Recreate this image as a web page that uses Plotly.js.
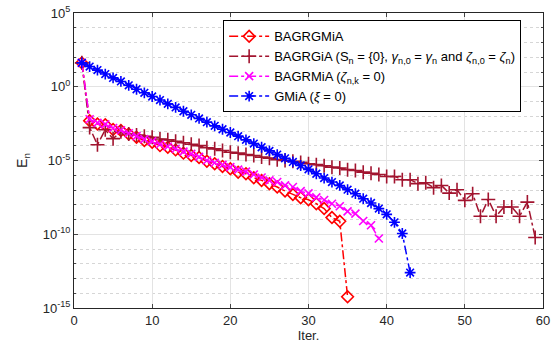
<!DOCTYPE html>
<html>
<head>
<meta charset="utf-8">
<script src="https://cdn.plot.ly/plotly-3.0.1.min.js"></script>
<style>html,body{margin:0;padding:0;background:#fff;}#chart{width:555px;height:347px;}</style>
</head>
<body>
<div id="chart"></div>
<script>
// log10(E_n) values
const iterRed = [1,2,3,4,5,6,7,8,9,10,11,12,13,14,15,16,17,18,19,20,21,22,23,24,25,26,27,28,29,30,31,32,33,34,35];
const logRed = [1.62,-2.3,-2.52,-2.57,-2.9,-2.97,-3.2,-3.42,-3.65,-3.76,-3.99,-4.1,-4.28,-4.5,-4.66,-4.8,-5.05,-5.22,-5.4,-5.56,-5.79,-5.9,-6.17,-6.35,-6.57,-6.8,-7.07,-7.3,-7.52,-7.66,-7.93,-8.26,-8.87,-9.12,-14.24];

const iterDark = [1,2,3,4,5,6,7,8,9,10,11,12,13,14,15,16,17,18,19,20,21,22,23,24,25,26,27,28,29,30,31,32,33,34,35,36,37,38,39,40,41,42,43,44,45,46,47,48,49,50,51,52,53,54,55,56,57,58,59];
const logDark = [1.62,-2.77,-3.93,-2.92,-3.52,-3.05,-3.2,-3.27,-3.36,-3.42,-3.54,-3.6,-3.69,-3.8,-3.9,-3.99,-4.14,-4.21,-4.32,-4.44,-4.5,-4.59,-4.66,-4.77,-4.84,-4.95,-5.0,-5.05,-5.13,-5.22,-5.28,-5.36,-5.45,-5.51,-5.62,-5.68,-5.79,-5.86,-5.95,-6.08,-6.08,-6.3,-6.3,-6.57,-6.51,-6.84,-6.69,-7.21,-6.98,-7.7,-7.25,-8.78,-7.64,-8.78,-8.15,-8.15,-8.78,-7.82,-10.22];

const iterMag = [1,2,3,4,5,6,7,8,9,10,11,12,13,14,15,16,17,18,19,20,21,22,23,24,25,26,27,28,29,30,31,32,33,34,35,36,37,38,39];
const logMag = [1.62,-2.2,-2.45,-2.55,-2.8,-2.95,-3.15,-3.35,-3.55,-3.7,-3.9,-4.05,-4.2,-4.4,-4.55,-4.75,-5.0,-5.15,-5.3,-5.45,-5.62,-5.75,-5.95,-6.15,-6.35,-6.46,-6.69,-6.8,-7.08,-7.23,-7.5,-7.68,-7.93,-8.1,-8.45,-8.6,-9.1,-9.39,-10.29];

const iterBlue = [1,2,3,4,5,6,7,8,9,10,11,12,13,14,15,16,17,18,19,20,21,22,23,24,25,26,27,28,29,30,31,32,33,34,35,36,37,38,39,40,41,42,43];
const logBlue = [1.62,1.37,1.13,0.86,0.6,0.36,0.1,-0.17,-0.41,-0.66,-0.9,-1.16,-1.4,-1.66,-1.9,-2.15,-2.4,-2.65,-2.88,-3.1,-3.35,-3.6,-3.85,-4.1,-4.35,-4.6,-4.85,-5.1,-5.34,-5.6,-5.9,-6.19,-6.46,-6.69,-6.98,-7.25,-7.59,-7.88,-8.26,-8.65,-9.19,-9.95,-12.6];

const names = [
  'BAGRGMiA',
  'BAGRGiA (S<sub>n</sub> = {0}, <i>γ</i><sub>n,0</sub> = <i>γ</i><sub>n</sub> and <i>ζ</i><sub>n,0</sub> = <i>ζ</i><sub>n</sub>)',
  'BAGRMiA (<i>ζ</i><sub>n,k</sub> = 0)',
  'GMiA (<i>ξ</i> = 0)'
];
const xTickVals = [0,10,20,30,40,50,60];
const yTickExp = [5,0,-5,-10,-15];
const yTickText = ['10<sup>5</sup>','10<sup>0</sup>','10<sup>-5</sup>','10<sup>-10</sup>','10<sup>-15</sup>'];

const toE = a => a.map(v => Math.pow(10, v));

function tr(x, ly, name, color, symbol, size) {
  return {
    x: x, y: toE(ly), name: name, type: 'scatter', mode: 'lines+markers',
    line: {color: color, width: 1.5, dash: 'dashdot'},
    marker: {symbol: symbol, size: size, color: color, line: {color: color, width: 1.6}}
  };
}

const data = [
  tr(iterRed, logRed, names[0], '#ff0000', 'diamond-open', 9),
  tr(iterDark, logDark, names[1], '#a2142f', 'cross-thin-open', 10),
  tr(iterMag, logMag, names[2], '#ff00ff', 'x-thin-open', 8),
  tr(iterBlue, logBlue, names[3], '#0000ff', 'asterisk-open', 9)
];

const layout = {
  width: 555, height: 347,
  margin: {l: 74, r: 12, t: 13, b: 39},
  paper_bgcolor: '#fff', plot_bgcolor: '#fff',
  font: {family: 'Liberation Sans, Arial, sans-serif', size: 13, color: '#262626'},
  showlegend: true,
  legend: {
    x: 0.318, y: 0.975, xanchor: 'left', yanchor: 'top',
    bgcolor: '#fff', bordercolor: '#000', borderwidth: 1,
    font: {size: 13, color: '#000'}, itemwidth: 40, tracegroupgap: 0
  },
  xaxis: {
    range: [0, 60], tickvals: xTickVals, ticks: 'inside', ticklen: 4,
    showline: true, linecolor: '#262626', linewidth: 1, mirror: 'ticks',
    showgrid: true, gridcolor: '#e3e3e3', gridwidth: 1, zeroline: false,
    title: {text: 'Iter.', standoff: 4, font: {size: 13}}
  },
  yaxis: {
    type: 'log', range: [-15, 5],
    tickvals: toE(yTickExp), ticktext: yTickText,
    ticks: 'inside', ticklen: 4,
    showline: true, linecolor: '#262626', linewidth: 1, mirror: 'ticks',
    showgrid: true, gridcolor: '#e3e3e3', gridwidth: 1, zeroline: false,
    minor: {dtick: 1, showgrid: true, gridcolor: '#d6d6d6', griddash: 'dot', ticks: 'inside', ticklen: 2},
    title: {text: 'E<sub>n</sub>', standoff: 11, font: {size: 14}}
  }
};

Plotly.newPlot('chart', data, layout, {displayModeBar: false, staticPlot: true});
</script>
</body>
</html>
